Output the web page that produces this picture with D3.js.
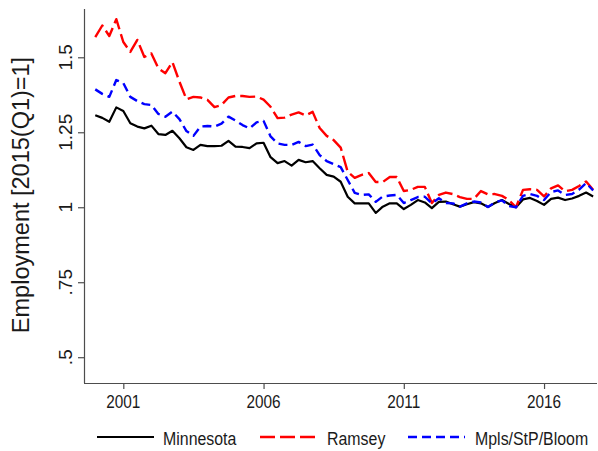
<!DOCTYPE html>
<html>
<head>
<meta charset="utf-8">
<script src="https://cdn.jsdelivr.net/npm/d3@7"></script>
<style>
  html, body { margin: 0; padding: 0; background: #fff; }
  svg { display: block; font-family: "Liberation Sans", Arial, Helvetica, sans-serif; }
</style>
</head>
<body>
<svg id="chart" width="598" height="451"></svg>
<script>
// ---- Data (quarterly, 2000q1 .. 2017q4) ----
const startYear = 2000;
const seriesNames = ["Minnesota", "Ramsey", "Mpls/StP/Bloom"];
const minnesota = [
  1.307,1.298,1.285,1.333,1.321,1.28,1.269,1.263,1.272,1.244,
  1.241,1.255,1.23,1.2,1.191,1.208,1.204,1.204,1.205,1.221,
  1.202,1.201,1.197,1.213,1.215,1.167,1.147,1.154,1.139,1.158,
  1.15,1.154,1.13,1.108,1.102,1.085,1.035,1.013,1.013,1.013,
  0.981,1.002,1.013,1.013,0.994,1.008,1.024,1.016,0.997,1.018,
  1.019,1.01,1.002,1.01,1.017,1.013,1.001,1.014,1.024,1.011,
  1.0,1.026,1.031,1.021,1.008,1.028,1.032,1.024,1.029,1.038,
  1.049,1.036
];
const ramsey = [
  1.567,1.606,1.571,1.627,1.551,1.518,1.558,1.501,1.513,1.463,
  1.447,1.484,1.419,1.36,1.368,1.366,1.358,1.334,1.341,1.366,
  1.371,1.371,1.368,1.369,1.359,1.335,1.297,1.299,1.309,1.316,
  1.306,1.318,1.264,1.238,1.224,1.199,1.118,1.098,1.108,1.114,
  1.084,1.084,1.101,1.101,1.054,1.058,1.068,1.068,1.014,1.041,
  1.049,1.044,1.034,1.028,1.028,1.054,1.043,1.044,1.038,1.024,
  1.0,1.058,1.06,1.058,1.036,1.063,1.073,1.053,1.058,1.071,
  1.086,1.058
];
const mplsStpBloom = [
  1.393,1.378,1.368,1.424,1.414,1.368,1.354,1.344,1.341,1.311,
  1.302,1.319,1.294,1.254,1.238,1.269,1.271,1.269,1.279,1.302,
  1.289,1.274,1.263,1.283,1.288,1.236,1.213,1.208,1.208,1.218,
  1.204,1.209,1.174,1.154,1.144,1.134,1.091,1.048,1.041,1.043,
  1.018,1.036,1.039,1.041,1.014,1.024,1.034,1.035,1.013,1.03,
  1.014,1.013,1.002,1.013,1.019,1.016,1.001,1.016,1.023,1.004,
  1.0,1.038,1.044,1.038,1.024,1.051,1.056,1.041,1.044,1.059,
  1.081,1.056
];
const yTicks = [0.5, 0.75, 1, 1.25, 1.5];
const yTickLabels = [".5", ".75", "1", "1.25", "1.5"];
const xTicks = [2001, 2006, 2011, 2016];
const xTickLabels = ["2001", "2006", "2011", "2016"];
const yTitle = "Employment [2015(Q1)=1]";

// ---- Layout ----
const svg = d3.select("#chart");
const pLeft = 85, pRight = 597, pTop = 9, pBottom = 383;
const x = d3.scaleLinear().domain([1999.634, 2017.888]).range([pLeft, pRight]);
const y = d3.scaleLinear().domain([0.414, 1.661]).range([pBottom, pTop]);
const axisColor = "#4d4d4d";

const series = [
  { name: seriesNames[0], values: minnesota, color: "#000000", dash: null, width: 2.2 },
  { name: seriesNames[1], values: ramsey, color: "#ff0000", dash: "15,5", width: 2.4 },
  { name: seriesNames[2], values: mplsStpBloom, color: "#0000ff", dash: "9,5", width: 2.4 }
];

// ---- Axes ----
const yAxis = d3.axisLeft(y).tickValues(yTicks).tickSize(7).tickFormat((d, i) => yTickLabels[i]);
const gy = svg.append("g").attr("transform", `translate(${pLeft},0)`).call(yAxis);
gy.select(".domain").attr("d", `M-0.5,${pTop}V${pBottom}`).attr("stroke", axisColor).attr("stroke-width", 1.2);
gy.selectAll(".tick line").attr("stroke", axisColor).attr("stroke-width", 1.2);
gy.selectAll(".tick text").remove();
yTicks.forEach((v, i) => {
  svg.append("text")
    .attr("transform", `translate(72,${y(v)}) rotate(-90)`)
    .attr("text-anchor", "middle")
    .attr("font-size", 19)
    .attr("fill", "#1a1a1a")
    .text(yTickLabels[i]);
});

const xAxis = d3.axisBottom(x).tickValues(xTicks).tickSize(6).tickFormat((d, i) => xTickLabels[i]);
const gx = svg.append("g").attr("transform", `translate(0,${pBottom})`).call(xAxis);
gx.select(".domain").attr("d", `M${pLeft - 1},0.5H${pRight}`).attr("stroke", axisColor).attr("stroke-width", 1.2);
gx.selectAll(".tick line").attr("stroke", axisColor).attr("stroke-width", 1.2);
gx.selectAll(".tick text").remove();
xTicks.forEach((v, i) => {
  svg.append("text")
    .attr("transform", `translate(${x(v)},408) scale(0.83,1)`)
    .attr("text-anchor", "middle")
    .attr("font-size", 18.5)
    .attr("fill", "#1a1a1a")
    .text(xTickLabels[i]);
});

// y title
svg.append("text")
  .attr("transform", `translate(29,${(pTop + pBottom) / 2 - 1}) rotate(-90)`)
  .attr("text-anchor", "middle")
  .attr("font-size", 23.5)
  .attr("fill", "#1a1a1a")
  .text(yTitle);

// ---- Lines ----
const line = d3.line()
  .x((d, i) => x(startYear + i / 4))
  .y(d => y(d))
  .curve(d3.curveLinear);

series.forEach(s => {
  svg.append("path")
    .datum(s.values)
    .attr("fill", "none")
    .attr("stroke", s.color)
    .attr("stroke-width", s.width)
    .attr("stroke-linejoin", "round")
    .attr("stroke-dasharray", s.dash)
    .attr("d", line);
});

// ---- Legend ----
const legendItems = [
  { x1: 97, x2: 154, tx: 163 },
  { x1: 260, x2: 317, tx: 327 },
  { x1: 408, x2: 465, tx: 475 }
];
series.forEach((s, i) => {
  const L = legendItems[i];
  svg.append("line")
    .attr("x1", L.x1).attr("x2", L.x2)
    .attr("y1", 437).attr("y2", 437)
    .attr("stroke", s.color)
    .attr("stroke-width", s.width)
    .attr("stroke-dasharray", s.dash);
  svg.append("text")
    .attr("transform", `translate(${L.tx},445) scale(0.86,1)`)
    .attr("font-size", 18.5)
    .attr("fill", "#1a1a1a")
    .text(s.name);
});
</script>
</body>
</html>
